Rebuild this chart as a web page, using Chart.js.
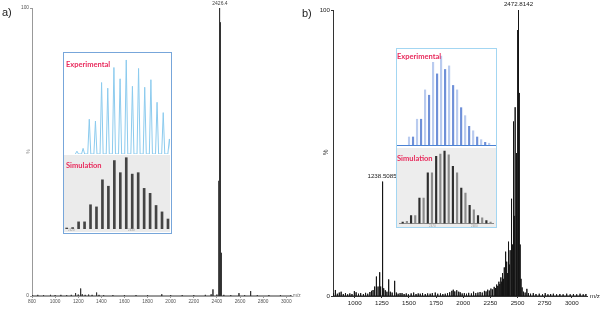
<!DOCTYPE html>
<html><head><meta charset="utf-8">
<script src="https://cdn.jsdelivr.net/npm/chart.js@4.4.1/dist/chart.umd.min.js"></script>
<style>
html,body{margin:0;padding:0;background:#fff;}
#wrap{position:relative;width:607px;height:310px;overflow:hidden;font-family:"Liberation Sans",Arial,sans-serif;}
canvas{position:absolute;}
.t{position:absolute;white-space:nowrap;line-height:1;}
.lab{font-family:Lato,"Open Sans",sans-serif;font-weight:700;font-size:7.5px;color:#e82a5c;z-index:5;}
.box{position:absolute;box-sizing:border-box;}
</style></head><body>
<div id="wrap">
  <canvas id="cA" width="303" height="310" style="left:0;top:0"></canvas>
  <canvas id="cB" width="304" height="310" style="left:303px;top:0"></canvas>

  <div class="box" style="left:63px;top:52px;width:109px;height:182px;border:1px solid #77a6da;background:#fff;"></div>
  <div class="box" style="left:64px;top:155px;width:106px;height:77px;background:#ebebeb;"></div>
  <canvas id="cAE" width="106" height="102" style="left:64px;top:53px"></canvas>
  <canvas id="cAS" width="106" height="77" style="left:64px;top:155px"></canvas>

  <div class="box" style="left:396px;top:48px;width:101px;height:180px;border:1px solid #a3d6f2;background:#fff;"></div>
  <div class="box" style="left:397px;top:148px;width:99px;height:79px;background:#ededed;"></div>
  <div class="box" style="left:397px;top:145px;width:99px;height:1px;background:#4b82d4;"></div>
  <div class="box" style="left:399px;top:223px;width:95px;height:1px;background:#8a8a8a;"></div>
  <canvas id="cBE" width="99" height="97" style="left:397px;top:49px"></canvas>
  <canvas id="cBS" width="99" height="79" style="left:397px;top:148px"></canvas>

  <div class="t" style="left:2px;top:7px;font-size:11px;color:#222;">a)</div>
  <div class="t" style="left:302px;top:8px;font-size:11px;color:#222;">b)</div>
  <div class="t" style="left:26px;top:149px;font-size:5px;color:#777;transform:rotate(-90deg);">%</div>
  <div class="t" style="left:323px;top:149px;font-size:6.5px;color:#333;transform:rotate(-90deg);">%</div>
  <div class="t" style="left:293px;top:293.5px;font-size:4.8px;color:#666;">m/z</div>
  <div class="t" style="left:590px;top:293px;font-size:6.2px;color:#222;">m/z</div>

  <div class="t lab" style="left:66px;top:61px;">Experimental</div>
  <div class="t lab" style="left:66px;top:161.5px;">Simulation</div>
  <div class="t lab" style="left:397px;top:52.5px;">Experimental</div>
  <div class="t lab" style="left:397px;top:154.5px;">Simulation</div>

  <div class="t" style="left:68px;top:229px;font-size:3px;color:#999;">2420</div>
  <div class="t" style="left:128px;top:229px;font-size:3px;color:#999;">2430</div>
  <div class="t" style="left:429px;top:225px;font-size:3px;color:#999;">2470</div>
  <div class="t" style="left:471px;top:225px;font-size:3px;color:#999;">2480</div>
</div>
<script>
// ---------- Panel a: main spectrum ----------
const mzA  = [805,850,900,960,1000,1050,1100,1140,1177,1200,1221,1235,1260,1290,1320,1359,1380,1420,1500,1600,1700,1800,1923,2000,2100,2200,2300,2350,2366,2400,2416,2418,2420,2422,2424,2426.4,2428,2430,2432,2434,2436,2440,2460,2520,2591,2640,2692,2750,2850,2950,3040];
const intA = [0.3,0.4,0.3,0.4,0.3,0.4,0.3,0.4,1.0,0.5,2.6,0.6,0.4,0.5,0.4,1.2,0.4,0.3,0.3,0.3,0.3,0.3,0.6,0.3,0.3,0.3,0.4,0.6,2.3,0.5,15,40,70,90,97,100,95,85,65,40,15,0.9,0.4,0.3,1.0,0.3,1.7,0.3,0.3,0.3,0.3];
const ticksAx = [800,1000,1200,1400,1600,1800,2000,2200,2400,2600,2800,3000];
const ticksAy = [0,100];
const labelsA = [{mz:2426.4, v:100, text:'2426.4'}];

// ---------- Panel b: main spectrum ----------
const mzB  = [805,822,840,858,875,895,915,935,955,975,997,1013,1035,1055,1080,1100,1120,1140,1155,1169,1184,1200,1215,1230,1239,1252,1260,1267,1282,1297,1313,1328,1345,1368,1384,1400,1418,1436,1455,1475,1495,1520,1543,1565,1585,1604,1625,1650,1672,1695,1715,1742,1765,1790,1812,1834,1855,1875,1895,1908,1922,1940,1958,1972,1990,2010,2030,2050,2075,2095,2115,2135,2155,2175,2195,2210,2225,2240,2255,2270,2285,2297,2308,2318,2328,2337,2346,2354,2362,2370,2378,2386,2393,2400,2408,2417,2424,2432,2440,2448,2455,2463,2470,2478,2486,2494,2502,2509,2516,2524,2532,2542,2555,2570,2586,2600,2620,2645,2670,2700,2730,2755,2780,2805,2830,2860,2890,2920,2953,2985,3015,3045,3076,3105,3130];
const intB = [1.0,2.1,0.8,1.2,1.5,0.7,1.0,0.6,0.9,0.7,1.7,1.3,0.8,1.0,0.7,1.1,0.8,1.4,1.8,2.1,3.3,6.8,3.3,8.3,3.3,40,4.0,2.7,2.0,1.5,5.8,1.5,1.2,5.3,1.2,0.8,1.0,1.0,0.7,0.9,0.6,0.9,1.2,0.7,0.9,0.8,1.0,0.7,0.9,0.8,1.0,1.2,0.8,0.9,0.7,0.8,1.0,1.3,1.8,2.2,1.6,2.0,1.5,1.3,0.9,1.0,0.8,1.1,0.9,1.5,1.0,1.2,1.4,1.2,1.8,1.6,2.2,1.9,2.6,2.3,3.2,2.8,4.0,3.5,5.0,4.2,6.5,5.0,8.0,6.0,10,15.5,9,12,8,19,11,16,22,34,18,61,28,66,42,50,93,100,71,18,6,3,1.5,1.2,2.5,1.0,0.8,1.0,0.7,0.8,0.6,1.0,0.6,0.7,0.8,0.6,0.7,0.6,0.8,0.6,0.7,0.6,0.8,0.6,0.7];
const ticksBx = [1000,1250,1500,1750,2000,2250,2500,2750,3000];
const ticksBy = [0,100];
const labelsB = [{mz:2509, v:100, text:'2472.8142'},{mz:1252, v:40, text:'1238.5085'}];

// ---------- Insets ----------
const expA_mz  = [2421,2422,2423,2424,2425,2426,2427,2428,2429,2430,2431,2432,2433,2434,2435,2436];
const expA_int = [3,6,37,35,76,70,92,80,100,72,91,71,79,55,44,16];
const simA_mz  = [2419,2420,2421,2422,2423,2424,2425,2426,2427,2428,2429,2430,2431,2432,2433,2434,2435,2436];
const simA_int = [1.4,2,10,10,34,31,69,60,96,79,100,77,79,57,50,33,24,14];
const expB_mz  = [2465,2466,2467,2468,2469,2470,2471,2472,2473,2474,2475,2476,2477,2478,2479,2480,2481,2482,2483,2484,2485];
const expB_int = [9,9,29,29,62,56,93,80,100,85,89,67,62,42,33,21,16,9,6,3,2];
const simB_mz  = [2463,2464,2465,2466,2467,2468,2469,2470,2471,2472,2473,2474,2475,2476,2477,2478,2479,2480,2481,2482,2483,2484];
const simB_int = [2,3,11,11,35,35,70,70,93,96,100,95,79,70,49,42,25,19,11,8,4,2];

function sticks(mz, it){ const d=[]; mz.forEach((m,i)=>{ d.push({x:m,y:0},{x:m,y:it[i]},{x:m,y:0}); }); return d; }
function profile(mz, it, w){ const d=[]; mz.forEach((m,i)=>{ d.push({x:m-w,y:0},{x:m,y:it[i]},{x:m+w,y:0}); }); return d; }
function pts(mz, it){ return mz.map((m,i)=>({x:m,y:it[i]})); }

const peakLabels = {
  id:'peakLabels',
  afterDatasetsDraw(chart, args, o){
    const ctx = chart.ctx, xs = chart.scales.x, ys = chart.scales.y;
    ctx.save();
    ctx.font = o.font; ctx.fillStyle = o.color; ctx.textAlign='center'; ctx.textBaseline='bottom';
    o.items.forEach(it=>{ ctx.fillText(it.text, xs.getPixelForValue(it.mz), ys.getPixelForValue(it.v) - o.gap); });
    ctx.restore();
  }
};

function mainChart(id, mz, it, ticksX, ticksY, xmin, xmax, pad, yw, st){
  return new Chart(document.getElementById(id), {
    type:'line',
    data:{datasets:[{data:sticks(mz,it), borderColor:st.line, borderWidth:1, pointRadius:0, tension:0}]},
    options:{
      responsive:false, animation:false, events:[],
      layout:{padding:pad},
      plugins:{legend:{display:false}, tooltip:{enabled:false},
        peakLabels:{items:st.labels, font:st.labFont, color:st.labColor, gap:st.gap}},
      scales:{
        x:{type:'linear', min:xmin, max:xmax,
          afterBuildTicks:s=>{ s.ticks = ticksX.map(v=>({value:v})); },
          afterFit:s=>{ s.height = 14; },
          grid:{display:true, drawOnChartArea:false, tickLength:st.tl, color:st.axis},
          border:{color:st.axis, width:1},
          ticks:{font:{size:st.fs, family:'Liberation Sans'}, color:st.tick, padding:st.tp, maxRotation:0, autoSkip:false,
                 callback:v=>String(v)}},
        y:{min:0, max:100,
          afterBuildTicks:s=>{ s.ticks = ticksY.map(v=>({value:v})); },
          afterFit:s=>{ s.width = yw; },
          grid:{display:true, drawOnChartArea:false, tickLength:2, color:st.axis},
          border:{color:st.axis, width:1},
          ticks:{font:{size:st.fs, family:'Liberation Sans'}, color:st.tick, padding:1, autoSkip:false,
                 callback:v=>String(v)}}
      }
    },
    plugins:[peakLabels]
  });
}

mainChart('cA', mzA, intA, ticksAx, ticksAy, 800, 3050, {top:8,right:11,left:0,bottom:0}, 32,
  {line:'#333', axis:'#999', tick:'#555', fs:4.8, tl:2, tp:1, labels:labelsA, labFont:'5px "Liberation Sans"', labColor:'#444', gap:1.5});
mainChart('cB', mzB, intB, ticksBx, ticksBy, 800, 3140, {top:10,right:20,left:0,bottom:0}, 30,
  {line:'#151515', axis:'#333', tick:'#222', fs:6.2, tl:2, tp:2, labels:labelsB, labFont:'6.2px "Liberation Sans"', labColor:'#222', gap:2.5});

function insetOpts(xmin, xmax, ymax, padBottom){
  return {
    responsive:false, animation:false, events:[],
    layout:{padding:{left:0,right:0,top:0,bottom:padBottom}},
    plugins:{legend:{display:false}, tooltip:{enabled:false}},
    scales:{ x:{type:'linear', display:false, min:xmin, max:xmax, offset:false},
             y:{display:false, min:0, max:ymax} }
  };
}

new Chart(document.getElementById('cAE'), {
  type:'line',
  data:{datasets:[{data:profile(expA_mz, expA_int, 0.25), borderColor:'#8ccbee', borderWidth:1, pointRadius:0, tension:0}]},
  options:insetOpts(2418.9, 2436.1, 107.4, 1)
});
new Chart(document.getElementById('cAS'), {
  type:'bar',
  data:{datasets:[{data:pts(simA_mz, simA_int), backgroundColor:'#444', barThickness:2}]},
  options:insetOpts(2418.55, 2436.34, 103.8, 3)
});
new Chart(document.getElementById('cBE'), {
  type:'bar',
  data:{datasets:[{data:pts(expB_mz, expB_int), backgroundColor:expB_mz.map((m,i)=> i%2 ? '#6f90d8' : '#b9cbef'), barThickness:1.5}]},
  options:insetOpts(2462.0, 2486.7, 108, 1)
});
new Chart(document.getElementById('cBS'), {
  type:'bar',
  data:{datasets:[{data:pts(simB_mz, simB_int), backgroundColor:simB_mz.map((m,i)=> i%2 ? '#8c8c8c' : '#2e2e2e'), barThickness:1.5}]},
  options:insetOpts(2461.64, 2485.3, 104.4, 3.5)
});
</script>
</body></html>
